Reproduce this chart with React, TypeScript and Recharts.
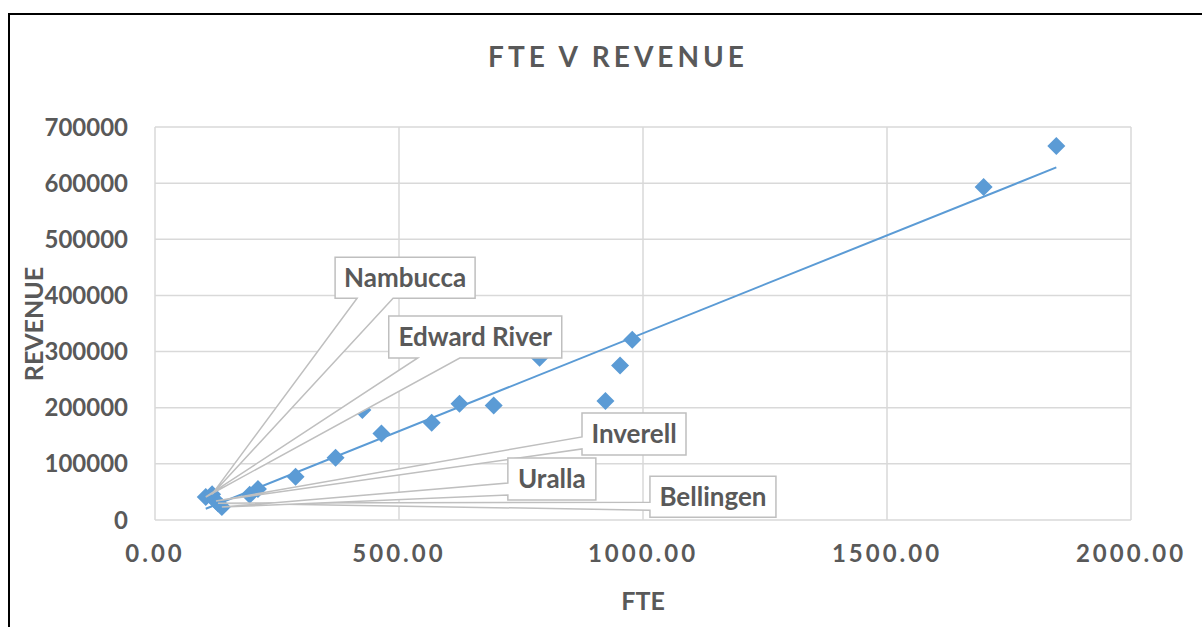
import React from "react";
import { ScatterChart, Scatter, XAxis, YAxis, CartesianGrid, ReferenceLine } from "recharts";

const FONT = "Lato, 'Open Sans', sans-serif";
const GREY = "#595959";
const BLUE = "#5B9BD5";

// FTE and revenue per council. Only the first five carry data labels.
const fte = [104, 117, 125, 129, 137, 194, 211, 288, 370, 425, 464, 567, 624, 694, 788, 923, 953, 978, 1698, 1847];
const revenue = [
  41000, 46000, 34000, 30000, 23000, 45000, 55000, 77000, 111000, 196000,
  154000, 173000, 207000, 204000, 289000, 212000, 275000, 321000, 593000, 666000,
];
const labels = ["Edward River", "Nambucca", "Inverell", "Bellingen", "Uralla"];

const xTicks = [0, 500, 1000, 1500, 2000];
const yTicks = [0, 100000, 200000, 300000, 400000, 500000, 600000, 700000];

// linear trendline ends (min FTE -> max FTE)
const trendFte = [104, 1847];
const trendRevenue = [20000, 628000];

const points = fte.map((f, i) => ({ fte: f, rev: revenue[i], label: labels[i] }));
const labelled = points.filter((p) => p.label);

// where each callout box sits relative to its point
const callouts: Record<string, { dx: number; dy: number; w: number; h: number; side: string; a: number; b: number }> = {
  Nambucca: { dx: 123, dy: -237, w: 140, h: 41, side: "bottom", a: 22, b: 58 },
  "Edward River": { dx: 183, dy: -181, w: 173, h: 42, side: "bottom", a: 29, b: 71 },
  Inverell: { dx: 366, dy: -88, w: 104, h: 42, side: "left", a: 24, b: 36 },
  Bellingen: { dx: 432, dy: -27, w: 126, h: 41, side: "left", a: 26, b: 34 },
  Uralla: { dx: 286, dy: -49, w: 88, h: 42, side: "left", a: 25, b: 37 },
};

const Diamond = (props: any) => {
  const { cx, cy } = props;
  const r = 9;
  return <path d={`M${cx},${cy - r}L${cx + r},${cy}L${cx},${cy + r}L${cx - r},${cy}Z`} fill={BLUE} />;
};

const Callout = (props: any) => {
  const { cx, cy, payload } = props;
  const c = callouts[payload.label];
  if (!c) return <g />;
  const L = cx + c.dx;
  const T = cy + c.dy;
  const R = L + c.w;
  const B = T + c.h;
  const d =
    c.side === "bottom"
      ? `M${L},${T}L${R},${T}L${R},${B}L${L + c.b},${B}L${cx},${cy}L${L + c.a},${B}L${L},${B}Z`
      : `M${L},${T}L${R},${T}L${R},${B}L${L},${B}L${L},${T + c.b}L${cx},${cy}L${L},${T + c.a}Z`;
  return (
    <g>
      <path d={d} fill="#fff" stroke="#BFBFBF" strokeWidth={1.5} />
      <text
        x={L + c.w / 2}
        y={T + c.h / 2 + 9}
        textAnchor="middle"
        fill={GREY}
        fontFamily={FONT}
        fontWeight={700}
        fontSize={26}
      >
        {payload.label}
      </text>
    </g>
  );
};

const tickStyle = { fill: GREY, fontSize: 24, fontWeight: 700, fontFamily: FONT };

export default function App() {
  return (
    <div style={{ position: "absolute", left: 0, top: 0, width: 1202, height: 627, overflow: "hidden", background: "#fff" }}>
      {/* chart area frame, only top and left edges are in view */}
      <div
        style={{
          position: "absolute",
          left: 8,
          top: 13,
          width: 1400,
          height: 800,
          borderTop: "2px solid #000",
          borderLeft: "2px solid #000",
        }}
      />
      <div style={{ position: "absolute", left: 0, top: 0 }}>
        <ScatterChart width={1202} height={627} margin={{ top: 127, right: 71, bottom: 77, left: 0 }}>
          <CartesianGrid stroke="#D9D9D9" strokeWidth={1.5} />
          <XAxis
            type="number"
            dataKey="fte"
            domain={[0, 2000]}
            ticks={xTicks}
            tickFormatter={(v: number) => v.toFixed(2)}
            axisLine={false}
            tickLine={false}
            tickSize={0}
            tickMargin={25}
            height={30}
            tick={{ ...tickStyle, letterSpacing: 3 }}
          />
          <YAxis
            type="number"
            dataKey="rev"
            domain={[0, 700000]}
            ticks={yTicks}
            axisLine={false}
            tickLine={false}
            tickSize={0}
            tickMargin={27}
            width={155}
            tick={tickStyle}
          />
          <Scatter data={points} shape={Diamond} isAnimationActive={false} />
          <ReferenceLine
            segment={[
              { x: trendFte[0], y: trendRevenue[0] },
              { x: trendFte[1], y: trendRevenue[1] },
            ]}
            stroke={BLUE}
            strokeWidth={2}
            ifOverflow="visible"
          />
          <Scatter data={labelled} shape={Callout} isAnimationActive={false} />
        </ScatterChart>
      </div>
      <div
        style={{
          position: "absolute",
          left: 618,
          top: 56,
          transform: "translate(-50%, -50%)",
          fontFamily: FONT,
          fontWeight: 700,
          fontSize: 28,
          lineHeight: "28px",
          letterSpacing: 4,
          color: GREY,
          whiteSpace: "nowrap",
        }}
      >
        FTE V REVENUE
      </div>
      <div
        style={{
          position: "absolute",
          left: 643,
          top: 600,
          transform: "translate(-50%, -50%)",
          fontFamily: FONT,
          fontWeight: 700,
          fontSize: 25,
          lineHeight: "25px",
          color: GREY,
          whiteSpace: "nowrap",
        }}
      >
        FTE
      </div>
      <div
        style={{
          position: "absolute",
          left: 33,
          top: 324,
          transform: "translate(-50%, -50%) rotate(-90deg)",
          fontFamily: FONT,
          fontWeight: 700,
          fontSize: 25,
          lineHeight: "25px",
          color: GREY,
          whiteSpace: "nowrap",
        }}
      >
        REVENUE
      </div>
    </div>
  );
}
